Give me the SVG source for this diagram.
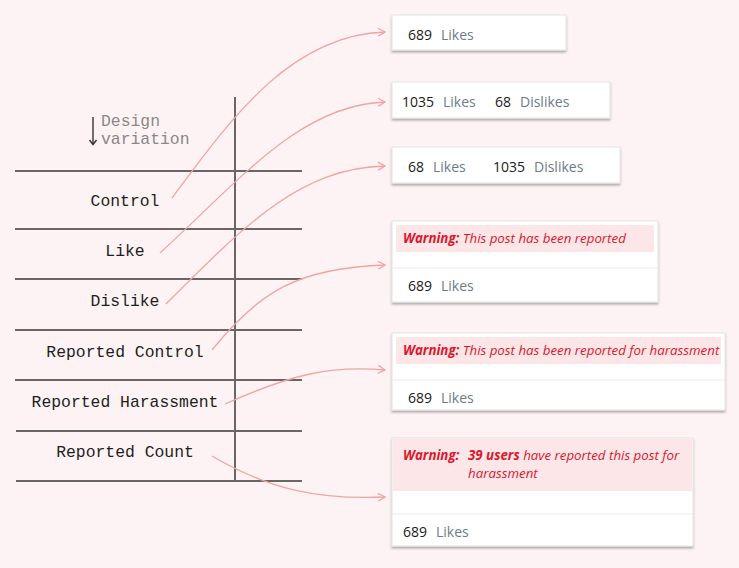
<svg xmlns="http://www.w3.org/2000/svg" width="739" height="568" viewBox="0 0 739 568">
<defs>
<marker id="ah" viewBox="0 0 10 10" refX="9" refY="5" markerWidth="10" markerHeight="10" markerUnits="userSpaceOnUse" orient="auto">
<path d="M2,1 L9,5 L2,9" fill="none" stroke="#f2a3a3" stroke-width="1.3"/>
</marker>
<filter id="sh" x="-5%" y="-20%" width="110%" height="150%">
<feDropShadow dx="0" dy="2" stdDeviation="1.2" flood-color="#000" flood-opacity="0.3"/>
</filter>
<style>
.grid{stroke:#6b6666;stroke-width:2;fill:none}
.lbl{font-family:"Liberation Mono","DejaVu Sans Mono",monospace;font-size:16.4px;fill:#1e1e1e;text-anchor:middle}
.dv{font-family:"Liberation Mono","DejaVu Sans Mono",monospace;font-size:16.4px;fill:#8a8888}
.conn{fill:none;stroke:#f2a3a3;stroke-width:1.3;marker-end:url(#ah)}
.card{fill:#fff;stroke:#e4e4e4;stroke-width:1;filter:url(#sh)}
.num{font-family:"Open Sans","Noto Sans",sans-serif;font-size:14px;fill:#1a1a1a}
.lk{font-family:"Open Sans","Noto Sans",sans-serif;font-size:14px;fill:#6d7c88}
.band{fill:#fde6e8}
.div{stroke:#ebebeb;stroke-width:1}
.warn{font-family:"Open Sans","Noto Sans",sans-serif;font-size:13.3px;font-style:italic;fill:#d9182e}
.wb{font-weight:bold}
</style>
</defs>
<rect width="739" height="568" fill="#fdf3f4"/>

<g id="table">
<line class="grid" x1="235" y1="97" x2="235" y2="481"/>
<line class="grid" x1="15" y1="171" x2="302" y2="171"/>
<line class="grid" x1="15" y1="229" x2="302" y2="229"/>
<line class="grid" x1="15" y1="279" x2="302" y2="279"/>
<line class="grid" x1="15" y1="330" x2="302" y2="330"/>
<line class="grid" x1="15" y1="380" x2="302" y2="380"/>
<line class="grid" x1="16" y1="431" x2="302" y2="431"/>
<line class="grid" x1="16" y1="481" x2="302" y2="481"/>
</g>

<g id="header">
<line x1="93" y1="117" x2="93" y2="144" stroke="#333" stroke-width="1.4"/>
<path d="M89.5,140 L93,144.5 L96.5,140" fill="none" stroke="#333" stroke-width="1.4"/>
<text class="dv" x="101" y="126">Design</text>
<text class="dv" x="101" y="144">variation</text>
</g>

<g id="row-control"><text class="lbl" x="125" y="206">Control</text></g>
<g id="row-like"><text class="lbl" x="125" y="256">Like</text></g>
<g id="row-dislike"><text class="lbl" x="125" y="306">Dislike</text></g>
<g id="row-reported-control"><text class="lbl" x="125" y="357">Reported Control</text></g>
<g id="row-reported-harassment"><text class="lbl" x="125" y="407">Reported Harassment</text></g>
<g id="row-reported-count"><text class="lbl" x="125" y="457">Reported Count</text></g>

<g id="connectors">
<path class="conn" d="M172,198 C230,120 290,35 385,32"/>
<path class="conn" d="M160,253 C240,180 300,105 385,102"/>
<path class="conn" d="M166,304 C245,225 300,168 385,166"/>
<path class="conn" d="M212,350 C260,290 300,268 385,265"/>
<path class="conn" d="M225,404 C290,375 330,365 385,370"/>
<path class="conn" d="M212,456 C270,490 320,500 385,497"/>
</g>

<g id="card-control">
<rect class="card" x="392" y="15" width="174" height="35"/>
<text x="408" y="40"><tspan class="num">689</tspan><tspan class="lk" x="441">Likes</tspan></text>
</g>

<g id="card-like">
<rect class="card" x="392" y="82" width="218" height="36"/>
<text y="107"><tspan class="num" x="402">1035</tspan><tspan class="lk" x="443">Likes</tspan><tspan class="num" x="495">68</tspan><tspan class="lk" x="520">Dislikes</tspan></text>
</g>

<g id="card-dislike">
<rect class="card" x="392" y="147" width="228" height="36"/>
<text y="172"><tspan class="num" x="408">68</tspan><tspan class="lk" x="433">Likes</tspan><tspan class="num" x="493">1035</tspan><tspan class="lk" x="534">Dislikes</tspan></text>
</g>

<g id="card-reported-control">
<rect class="card" x="392" y="221" width="266" height="81"/>
<rect class="band" x="396" y="225" width="258" height="27"/>
<line class="div" x1="392" y1="268" x2="658" y2="268"/>
<text class="warn" x="403" y="243"><tspan class="wb">Warning:</tspan> This post has been reported</text>
<text y="291"><tspan class="num" x="408">689</tspan><tspan class="lk" x="441">Likes</tspan></text>
</g>

<g id="card-reported-harassment">
<rect class="card" x="392" y="333" width="333" height="77"/>
<rect class="band" x="396" y="337" width="325" height="27"/>
<line class="div" x1="392" y1="380" x2="725" y2="380"/>
<text class="warn" x="403" y="355"><tspan class="wb">Warning:</tspan> This post has been reported for harassment</text>
<text y="403"><tspan class="num" x="408">689</tspan><tspan class="lk" x="441">Likes</tspan></text>
</g>

<g id="card-reported-count">
<rect class="card" x="392" y="438" width="301" height="108"/>
<rect class="band" x="393" y="439" width="299" height="52"/>
<line class="div" x1="392" y1="514" x2="693" y2="514"/>
<text class="warn" y="460"><tspan class="wb" x="403">Warning:</tspan><tspan class="wb" x="468">39 users</tspan> have reported this post for</text>
<text class="warn" x="468" y="478">harassment</text>
<text y="537"><tspan class="num" x="403">689</tspan><tspan class="lk" x="436">Likes</tspan></text>
</g>
</svg>
